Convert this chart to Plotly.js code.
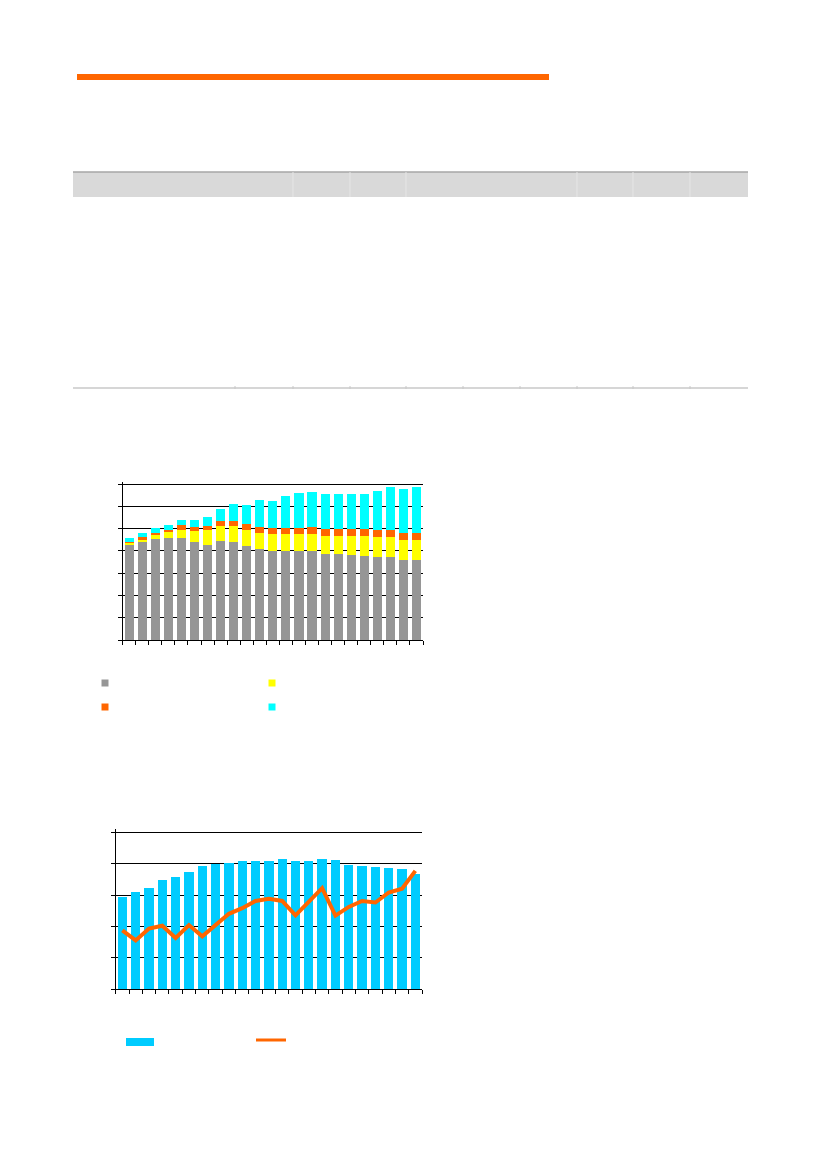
<!DOCTYPE html>
<html>
<head>
<meta charset="utf-8">
<script src="https://cdn.plot.ly/plotly-3.0.1.min.js"></script>
<style>
  html, body { margin: 0; padding: 0; background: #ffffff; }
  #page { width: 826px; height: 1169px; }
</style>
</head>
<body>
<div id="page"></div>
<script>
// upper chart: stacked bars, 23 periods
var periods = ["1","2","3","4","5","6","7","8","9","10","11","12","13","14","15","16","17","18","19","20","21","22","23"];
var grey_part   = [42.7,44.1,45.4,45.6,45.6,44.2,42.7,44.4,43.9,42.0,40.7,40.1,40.1,40.1,40.1,38.4,38.4,38.3,37.8,37.1,37.1,35.7,35.7];
var yellow_part = [0.7,1.0,1.8,2.8,3.9,4.8,6.5,6.7,7.1,7.2,7.4,7.4,7.4,7.6,7.6,8.1,8.1,8.5,8.7,9.2,9.2,9.3,9.3];
var orange_part = [0.6,0.9,0.6,0.8,1.9,1.8,1.8,2.1,2.5,2.7,2.7,2.7,2.9,2.7,3.0,3.3,3.3,3.0,3.1,3.0,3.0,2.8,2.8];
var cyan_part   = [1.7,2.1,2.4,2.5,2.4,3.2,4.0,5.7,7.5,8.8,12.1,12.4,14.3,15.7,15.7,15.7,15.8,15.8,16.0,17.5,19.2,20.1,21.0];

// lower chart: bars + line
var blue_bars  = [29.5,30.8,32.1,34.8,35.6,37.2,39.1,40.0,40.2,40.7,41.0,41.0,41.5,40.7,40.9,41.4,41.3,39.6,39.3,38.9,38.7,38.4,36.7];
var orange_line = [18.7,15.5,19.3,20.2,16.3,20.4,16.8,20.5,24.0,25.8,28.1,28.8,28.1,23.5,27.7,32.2,23.4,26.2,28.1,27.6,30.8,32.0,37.7];

var W = 826, H = 1169;
function px(x) { return x / W; }
function py(y) { return 1 - y / H; }

var traces = [
  {x: periods, y: grey_part, type: 'bar', marker: {color: '#969696'}, xaxis: 'x', yaxis: 'y'},
  {x: periods, y: yellow_part, type: 'bar', marker: {color: '#FFFF00'}, xaxis: 'x', yaxis: 'y'},
  {x: periods, y: orange_part, type: 'bar', marker: {color: '#FF6600'}, xaxis: 'x', yaxis: 'y'},
  {x: periods, y: cyan_part, type: 'bar', marker: {color: '#00FFFF'}, xaxis: 'x', yaxis: 'y'},
  {x: periods, y: blue_bars, type: 'bar', marker: {color: '#00CCFF'}, xaxis: 'x2', yaxis: 'y2'},
  {x: periods, y: orange_line, type: 'scatter', mode: 'lines',
   line: {color: '#FF6600', width: 4}, xaxis: 'x2', yaxis: 'y2'}
];

var xax = {
  type: 'category', dtick: 1,
  showticklabels: false, showgrid: false, zeroline: false,
  showline: true, linecolor: '#000000', linewidth: 1,
  ticks: 'outside', ticklen: 4, tickcolor: '#000000', tickson: 'boundaries'
};
var yax = {
  showticklabels: false, showgrid: true, gridcolor: '#000000', gridwidth: 1,
  zeroline: false, showline: true, linecolor: '#000000', linewidth: 1,
  ticks: 'outside', ticklen: 4, tickcolor: '#000000'
};

var shapes = [
  // orange rule under the page heading
  {type: 'rect', xref: 'paper', yref: 'paper', x0: px(77), x1: px(549), y0: py(80), y1: py(74),
   fillcolor: '#FF6600', line: {width: 0}},
  // table header band
  {type: 'rect', xref: 'paper', yref: 'paper', x0: px(73), x1: px(748), y0: py(197), y1: py(172),
   fillcolor: '#D9D9D9', line: {width: 0}},
  {type: 'line', xref: 'paper', yref: 'paper', x0: px(73), x1: px(748), y0: py(172), y1: py(172),
   line: {color: '#A6A6A6', width: 1.5}},
  // table bottom rule
  {type: 'line', xref: 'paper', yref: 'paper', x0: px(73), x1: px(748), y0: py(388), y1: py(388),
   line: {color: '#C8C8C8', width: 1.5}}
];
[293, 350, 406, 577, 633, 690].forEach(function (c) {
  shapes.push({type: 'line', xref: 'paper', yref: 'paper', x0: px(c), x1: px(c), y0: py(197), y1: py(172),
               line: {color: '#E6E6E6', width: 1}});
});
[235, 293, 350, 406, 463, 520, 577, 633, 690].forEach(function (c) {
  shapes.push({type: 'line', xref: 'paper', yref: 'paper', x0: px(c), x1: px(c), y0: py(389), y1: py(386),
               line: {color: '#C8C8C8', width: 1}});
});

// legend keys (no captions in the source)
function key(x, y, color) {
  shapes.push({type: 'rect', xref: 'paper', yref: 'paper', x0: px(x - 3.5), x1: px(x + 3.5),
               y0: py(y + 3.5), y1: py(y - 3.5), fillcolor: color, line: {width: 0}});
}
key(105, 683, '#969696');
key(272, 683, '#FFFF00');
key(105, 707, '#FF6600');
key(272, 707, '#00FFFF');
shapes.push({type: 'rect', xref: 'paper', yref: 'paper', x0: px(126), x1: px(154), y0: py(1046), y1: py(1038),
             fillcolor: '#00CCFF', line: {width: 0}});
shapes.push({type: 'line', xref: 'paper', yref: 'paper', x0: px(256), x1: px(286), y0: py(1040), y1: py(1040),
             line: {color: '#FF6600', width: 3}});

var layout = {
  width: W, height: H,
  margin: {l: 0, r: 0, t: 0, b: 0},
  paper_bgcolor: '#FFFFFF', plot_bgcolor: 'rgba(0,0,0,0)',
  showlegend: false,
  barmode: 'stack',
  bargap: 0.3,
  xaxis: Object.assign({}, xax, {domain: [px(122.7), px(423)], anchor: 'y'}),
  yaxis: Object.assign({}, yax, {domain: [py(640), py(481.8)], range: [0, 71], tickvals: [0, 10, 20, 30, 40, 50, 60, 70], anchor: 'x'}),
  xaxis2: Object.assign({}, xax, {domain: [px(115.7), px(422)], anchor: 'y2'}),
  yaxis2: Object.assign({}, yax, {domain: [py(989), py(829.2)], range: [0, 51], tickvals: [0, 10, 20, 30, 40, 50], anchor: 'x2'}),
  shapes: shapes
};

Plotly.newPlot('page', traces, layout, {staticPlot: true});
</script>
</body>
</html>
